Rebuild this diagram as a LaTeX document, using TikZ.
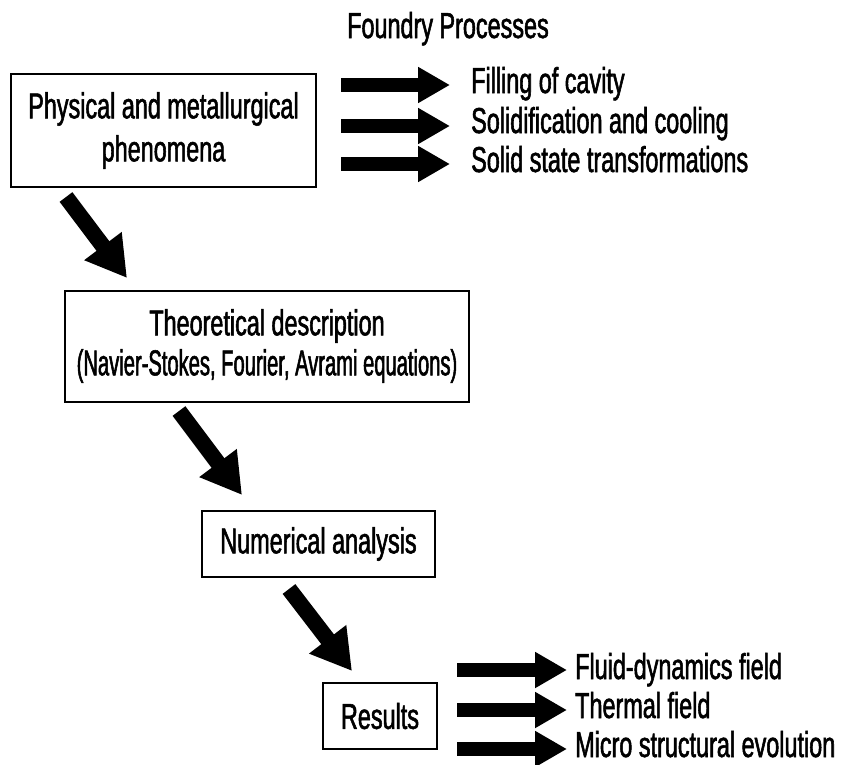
\documentclass[tikz,border=0pt]{standalone}
\usepackage{fontspec}
\setmainfont[FakeStretch=0.65,FakeBold=1.5]{Liberation Sans}
\newfontfamily\narrowfont[FakeStretch=0.56,FakeBold=1.5]{Liberation Sans}
\usetikzlibrary{arrows.meta}
\begin{document}
\begin{tikzpicture}[x=1pt,y=-1pt,
  every node/.style={font=\fontsize{36}{43}\selectfont, inner sep=0pt},
  box/.style={draw, line width=2pt, align=center},
  lbl/.style={anchor=base west},
  fatarrow/.style={line width=14pt, -{Triangle[width=34pt,length=32pt]}},
  diagarrow/.style={line width=16pt, -{Triangle[width=44pt,length=40pt]}}]
\useasboundingbox (0,0) rectangle (857,764);

% boxes
\node[box, minimum width=305pt, minimum height=113pt] (phys) at (163.5,130.5)
  {Physical and metallurgical\\phenomena};
\node[box, minimum width=404pt, minimum height=111pt,
  font=\fontsize{36}{40}\selectfont] (theo) at (267,346)
  {Theoretical description\\{\narrowfont (Navier-Stokes, Fourier, Avrami equations)}};
\node[box, minimum width=233pt, minimum height=66pt] (num) at (318.5,544)
  {Numerical analysis};
\node[box, minimum width=114pt, minimum height=66pt] (res) at (380,716)
  {Results};

% top labels
\node[lbl] (fp) at (347,38) {Foundry Processes};
\node[lbl] (t1) at (471,93) {Filling of cavity};
\node[lbl] (t2) at (471,133) {Solidification and cooling};
\node[lbl] (t3) at (471,172) {Solid state transformations};

% bottom labels
\node[lbl] (b1) at (575,679) {Fluid-dynamics field};
\node[lbl] (b2) at (575,718) {Thermal field};
\node[lbl] (b3) at (575,757) {Micro structural evolution};

% arrow end points
\coordinate (p1s) at (341,85);  \coordinate (p1e) at (450,85);
\coordinate (p2s) at (341,126); \coordinate (p2e) at (450,126);
\coordinate (p3s) at (341,164); \coordinate (p3e) at (450,164);
\coordinate (r1s) at (457,670); \coordinate (r1e) at (567,670);
\coordinate (r2s) at (457,710); \coordinate (r2e) at (567,710);
\coordinate (r3s) at (457,749); \coordinate (r3e) at (567,749);
\coordinate (a1s) at (66,197);  \coordinate (a1e) at (127,278);
\coordinate (a2s) at (179,411); \coordinate (a2e) at (242,495);
\coordinate (a3s) at (289,589); \coordinate (a3e) at (352,671);

\draw[fatarrow] (p1s) -- (p1e);
\draw[fatarrow] (p2s) -- (p2e);
\draw[fatarrow] (p3s) -- (p3e);
\draw[fatarrow] (r1s) -- (r1e);
\draw[fatarrow] (r2s) -- (r2e);
\draw[fatarrow] (r3s) -- (r3e);
\draw[diagarrow] (a1s) -- (a1e);
\draw[diagarrow] (a2s) -- (a2e);
\draw[diagarrow] (a3s) -- (a3e);
\end{tikzpicture}
\end{document}
